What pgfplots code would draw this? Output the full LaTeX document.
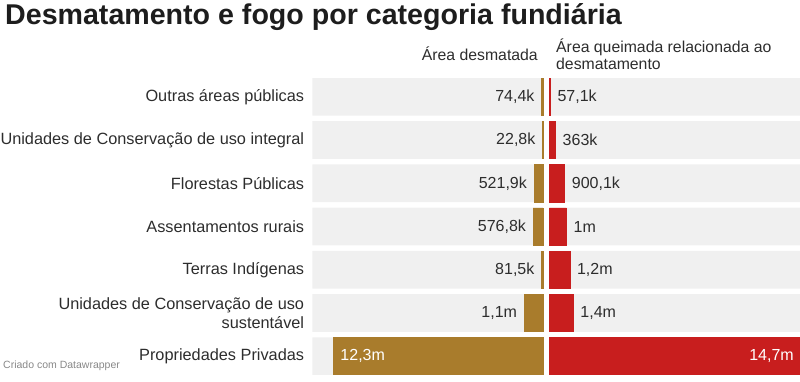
\documentclass[border=0pt]{standalone}
\usepackage{pgfplots}
\pgfplotsset{compat=1.18}
\usepackage{pgfplotstable}
\usepackage{fontspec}
\setmainfont{Liberation Sans}
\definecolor{gold}{RGB}{169,124,44}
\definecolor{redb}{RGB}{200,30,30}
\definecolor{bg}{RGB}{240,240,240}
\definecolor{txt}{RGB}{45,45,45}
\newcommand\lbl{\fontsize{16}{18.5}\selectfont}
\newcommand\cat{\fontsize{16.3}{18.5}\selectfont}

\pgfplotstableread{
y val lab
0 0.0744 74,4k
1 0.0228 22,8k
2 0.5219 521,9k
3 0.5768 576,8k
4 0.0815 81,5k
5 1.1 1,1m
}\desm

\pgfplotstableread{
y val lab
0 0.0571 57,1k
1 0.363 363k
2 0.9001 900,1k
3 1.0 1m
4 1.2 1,2m
5 1.4 1,4m
}\queim

\pgfplotsset{
  rowaxis/.style={
    scale only axis, height=297pt,
    ymin=-0.4355, ymax=6.4355, y dir=reverse,
    xbar, axis line style={draw=none}, tick style={draw=none},
    major tick length=0pt, xtick=\empty, clip=false,
  },
}

\begin{document}
\begin{tikzpicture}
\path[use as bounding box] (0,0) rectangle (800pt,382pt);

\node[anchor=base west, font=\fontsize{28.6}{32}\selectfont\bfseries, text={rgb,255:red,29;green,29;blue,29}, inner sep=0pt] at (5pt,357pt) {Desmatamento e fogo por categoria fundiária};
\node[anchor=base east, font=\fontsize{15.8}{18}\selectfont, text=txt, inner sep=0pt] at (538pt,321pt) {Área desmatada};
\node[anchor=base west, font=\fontsize{15.8}{18}\selectfont, text=txt, inner sep=0pt] at (556pt,329pt) {Área queimada relacionada ao};
\node[anchor=base west, font=\fontsize{15.8}{18}\selectfont, text=txt, inner sep=0pt] at (556pt,312pt) {desmatamento};
\node[anchor=base west, font=\fontsize{10.5}{12}\selectfont, text={rgb,255:red,136;green,136;blue,136}, inner sep=0pt] at (3pt,13pt) {Criado com Datawrapper};

\begin{axis}[rowaxis, at={(427.65pt,155.5pt)}, anchor=center, width=230.7pt,
  xmin=-13.53, xmax=0,
  ytick={0,1,2,3,4,5,6},
  yticklabels={Outras áreas públicas, Unidades de Conservação de uso integral, Florestas Públicas, Assentamentos rurais, Terras Indígenas, {Unidades de Conservação de uso\\sustentável}, Propriedades Privadas},
  yticklabel style={font=\cat, text=txt, align=right, inner sep=0pt, xshift=-8pt},
]
\addplot[fill=bg, draw=none, bar shift=0pt, bar width=37.6pt] coordinates {(-13.53,0) (-13.53,1) (-13.53,2) (-13.53,3) (-13.53,4) (-13.53,5) (-13.53,6)};
\addplot[fill=gold, draw=gold, line width=0.5pt, bar shift=0pt, bar width=37.1pt,
  nodes near coords, nodes near coords align={horizontal}, point meta=explicit symbolic,
  every node near coord/.append style={font=\lbl, text=txt, anchor=east, inner sep=0pt, xshift=-7pt}]
  table[x expr=-\thisrow{val}, y=y, meta=lab] {\desm};
\addplot[fill=gold, draw=gold, line width=0.5pt, bar shift=0pt, bar width=37.1pt] coordinates {(-12.3,6)};
\node[anchor=west, font=\lbl, text=white, inner sep=0pt, xshift=7pt] at (axis cs:-12.3,6) {12,3m};
\end{axis}

\begin{axis}[rowaxis, at={(674.65pt,155.5pt)}, anchor=center, width=250.7pt,
  xmin=0, xmax=14.7, ytick=\empty,
]
\addplot[fill=bg, draw=none, bar shift=0pt, bar width=37.6pt] coordinates {(14.7,0) (14.7,1) (14.7,2) (14.7,3) (14.7,4) (14.7,5) (14.7,6)};
\addplot[fill=redb, draw=redb, line width=0.5pt, bar shift=0pt, bar width=37.1pt,
  nodes near coords, nodes near coords align={horizontal}, point meta=explicit symbolic,
  every node near coord/.append style={font=\lbl, text=txt, anchor=west, inner sep=0pt, xshift=7pt}]
  table[x=val, y=y, meta=lab] {\queim};
\addplot[fill=redb, draw=redb, line width=0.5pt, bar shift=0pt, bar width=37.1pt] coordinates {(14.7,6)};
\node[anchor=east, font=\lbl, text=white, inner sep=0pt, xshift=-6pt] at (axis cs:14.7,6) {14,7m};
\end{axis}
\end{tikzpicture}
\end{document}
